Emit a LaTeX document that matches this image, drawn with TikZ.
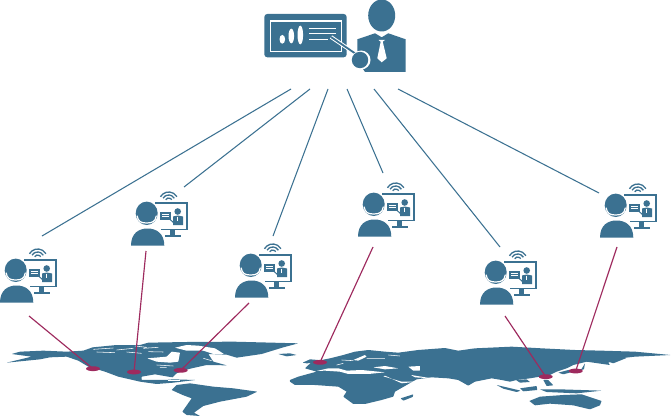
\documentclass[tikz,border=0pt]{standalone}
\definecolor{mapblue}{HTML}{3B7191}
\definecolor{pinred}{HTML}{9E2A5E}
\tikzset{
  x=1pt,y=-1pt,
  uplink/.style={draw=mapblue,line width=1.05pt},
  downlink/.style={draw=pinred,line width=1.15pt},
  land/.style={fill=mapblue,draw=none,rounded corners=0.4pt},
  sea/.style={fill=white,draw=none,rounded corners=0.4pt},
  speck/.style={draw=white,line width=0.55pt,fill=none},
  student/.pic={
    % wifi
    \foreach \r/\dx/\dy in {3.5/3.03/1.75,6.5/5.63/3.25,9.5/8.23/4.75}
      \draw[draw=mapblue,line width=1.3pt] (37.7-\dx,18.5-\dy) arc[start angle=150,end angle=30,radius=\r pt];
    % monitor
    \draw[draw=mapblue,line width=1.7pt] (24,20) -- (56,20) -- (56,46.5) -- (30,46.5);
    \fill[mapblue] (38.5,47) rectangle (43.5,52);
    \fill[mapblue] (33.5,51.5) rectangle (49.5,54);
    % small board and presenter in the screen
    \fill[mapblue] (29,28.5) rectangle (39.5,36.5);
    \draw[white,line width=.5pt] (31,31) -- (37.5,31) (31,33.5) -- (37.5,33.5);
    \draw[mapblue,line width=1pt] (38,35.5) -- (43,40);
    \fill[mapblue] (46.7,28.5) circle[radius=3.3pt];
    \fill[mapblue] (42,33.5) -- (46.7,32.5) -- (52,33.5) -- (52,42) -- (42,42) -- cycle;
    \draw[white,line width=.5pt] (46.7,33.5) -- (46.7,38);
    % person
    \fill[white] (-1,63) .. controls (-1,50) and (8,43.5) .. (16.5,43.5)
       .. controls (25,43.5) and (34.5,50) .. (34.5,63) -- cycle;
    \fill[mapblue] (0,62.7) .. controls (0,50) and (8,45.5) .. (16.5,45.5)
       .. controls (25,45.5) and (33.3,50) .. (33.3,62.7) -- cycle;
    \fill[white] (15.7,30.3) ellipse[x radius=12pt,y radius=12.7pt];
    \fill[mapblue] (15.7,30.3) ellipse[x radius=11pt,y radius=11.7pt];
    \draw[white,line width=1.2pt,line cap=round] (6.2,33) .. controls (7,38.5) and (10,40) .. (15.7,40)
       .. controls (21.4,40) and (24.4,38.5) .. (25.2,33);
  },
}
\begin{document}
\begin{tikzpicture}
\useasboundingbox (0,0) rectangle (671,417);
\fill[white] (0,0) rectangle (671,417);

% --- world map, in 3x map coordinates
\begin{scope}[shift={(0,330)},x=0.3333pt,y=-0.3333pt]
 % North America, Arctic and Greenland
 \fill[land] (35,72)--(60,65)--(130,62)--(200,65)--(250,62)--(278,52)--(350,45)--(420,45)--(445,38)--(560,36)--(700,35)--(895,40)--(850,52)--(785,72)--(710,83)--(680,74)--(625,72)--(640,95)--(680,106)--(620,105)--(575,115)--(550,122)--(530,130)--(518,142)--(505,140)--(465,133)--(425,140)--(425,150)--(470,150)--(495,150)--(520,148)--(586,150)--(520,158)--(470,162)--(420,155)--(355,140)--(315,125)--(265,110)--(235,92)--(200,80)--(150,82)--(120,88)--(60,94)--(20,98)--(95,80)--cycle;
 % inlets of the north-east
 \fill[sea] (525,53)--(560,45)--(595,47)--(645,55)--(672,72)--(640,72)--(610,62)--(560,62)--cycle;
 % Hudson bay
 \fill[sea] (442,85)--(500,80)--(515,65)--(540,68)--(535,95)--(510,98)--(470,95)--cycle;
 % arctic and lake specks
 \draw[speck] (280,58)--(340,54) (350,60)--(400,55) (430,55)--(475,52) (380,66)--(425,70) (290,66)--(345,68)
   (405,48)--(440,52) (470,105)--(520,108) (480,112)--(500,112) (610,85)--(635,92) (445,65)--(490,66);
 % Iceland
 \fill[land] (835,72)--(870,70)--(890,75)--(860,79)--cycle;
 % Caribbean specks
 \draw[speck] (505,152)--(540,152);
 % South America
 \fill[land] (515,180)--(530,165)--(570,160)--(640,170)--(700,175)--(772,185)--(740,200)--(660,215)--(610,228)--(582,248)--(600,258)--(560,255)--(547,245)--(575,205)--(548,195)--cycle;
 % Eurasia and Africa
 \fill[land] (915,115)--(935,96)--(990,85)--(1030,75)--(1065,65)--(1105,60)--(1155,65)--(1195,68)--(1255,60)--(1335,54)--(1375,62)--(1425,55)--(1535,50)--(1625,55)--(1725,60)--(1805,62)--(1905,65)--(2012,75)--(1905,80)--(1860,85)--(1825,98)--(1830,105)--(1760,95)--(1720,105)--(1700,115)--(1670,125)--(1650,135)--(1590,145)--(1550,150)--(1530,155)--(1505,150)--(1475,145)--(1425,155)--(1405,167)--(1375,150)--(1345,145)--(1295,142)--(1250,148)--(1220,165)--(1185,185)--(1180,200)--(1145,210)--(1095,222)--(1060,222)--(1030,200)--(1040,185)--(1015,170)--(945,165)--(885,165)--(870,155)--(870,150)--(895,140)--(950,125)--cycle;
 % UK
 \fill[land] (908,98)--(930,88)--(955,90)--(950,98)--(920,100)--cycle;
 % Mediterranean, Black Sea, Caspian, gulfs
 \fill[sea] (950,123)--(985,115)--(1015,115)--(1040,122)--(1085,120)--(1155,127)--(1105,132)--(1045,132)--(1020,125)--(975,122)--cycle;
 \fill[sea] (1120,112)--(1155,108)--(1195,115)--(1155,118)--cycle;
 \fill[sea] (1225,110)--(1260,108)--(1260,122)--(1240,122)--cycle;
 \fill[sea] (1155,137)--(1205,160)--(1250,155)--(1205,155)--(1150,139)--cycle;
 \fill[sea] (1233,135)--(1295,145)--(1245,142)--cycle;
 \fill[sea] (1060,90)--(1095,75)--(1100,80)--(1075,92)--cycle;
 \draw[speck] (1025,90)--(1060,92) (1100,85)--(1155,85) (1165,75)--(1200,78) (1030,100)--(1010,105);
 % Japan and Sakhalin
 \fill[land] (1675,128)--(1705,120)--(1745,117)--(1755,100)--(1752,118)--(1720,125)--(1690,133)--cycle;
 \fill[land] (1825,95)--(1870,80)--(1880,84)--(1840,100)--cycle;
 % Philippines
 \fill[land] (1630,150)--(1645,150)--(1660,166)--(1640,168)--cycle;
 % Indonesia
 \fill[land] (1490,165)--(1520,172)--(1562,182)--(1550,186)--(1510,176)--cycle;
 \fill[land] (1560,175)--(1610,168)--(1612,180)--(1570,184)--cycle;
 \fill[land] (1620,178)--(1680,178)--(1805,182)--(1730,190)--(1640,186)--cycle;
 \fill[land] (1548,150)--(1580,148)--(1590,156)--(1560,158)--cycle;
 % Australia
 \fill[land] (1588,213)--(1620,200)--(1690,195)--(1745,193)--(1805,213)--(1800,226)--(1770,238)--(1720,226)--(1650,221)--(1605,226)--cycle;
 % Madagascar
 \fill[land] (1202,205)--(1240,193)--(1238,201)--(1210,212)--cycle;
\end{scope}

% --- presenter
\fill[mapblue,rounded corners=3pt] (264.3,14) rectangle (346.7,57.3);
\draw[white,line width=1.3pt] (270.3,21) rectangle (341.5,51.5);
\fill[white] (282.3,39.3) ellipse[x radius=2.8pt,y radius=4.4pt];
\fill[white] (291.3,36) ellipse[x radius=2.8pt,y radius=7.3pt];
\fill[white] (300.3,35) ellipse[x radius=2.8pt,y radius=9.3pt];
\draw[white,line width=1pt] (309,28.3) -- (336,28.3) (309,34) -- (336,34) (309,40) -- (328.3,40);
\fill[mapblue] (381.7,15.5) ellipse[x radius=13.5pt,y radius=16pt];
\fill[mapblue] (357.3,39.3) -- (375,33.3) -- (381.7,37.3) -- (388.3,33.3) -- (405.7,39.3) -- (405.7,72) -- (365,72) -- (357.3,60) -- cycle;
\fill[white] (378.5,40) -- (385,40) -- (382.7,41.7) -- (386.7,58.3) -- (381.7,62.3) -- (377.3,58.3) -- (380.7,41.7) -- cycle;
\draw[white,line width=3.8pt] (331,37) -- (356,54);
\draw[mapblue,line width=1.8pt] (331,37) -- (356,54);
\fill[white] (361,60) circle[radius=9.5pt];
\fill[mapblue] (360,60) circle[radius=8.2pt];

% --- students
\pic at (0,240) {student};
\pic at (131,183) {student};
\pic at (235,235) {student};
\pic at (358,174) {student};
\pic at (480,242) {student};
\pic at (600,175) {student};

% --- hub points
\coordinate (h1) at (291,89);
\coordinate (h2) at (310,89);
\coordinate (h3) at (328,89);
\coordinate (h4) at (347,89);
\coordinate (h5) at (374,89);
\coordinate (h6) at (398,89);
\coordinate (s1) at (42,236);
\coordinate (s2) at (184,187);
\coordinate (s3) at (273,236);
\coordinate (s4) at (383,173);
\coordinate (s5) at (500,247);
\coordinate (s6) at (599,193);
\draw[uplink] (h1) -- (s1);
\draw[uplink] (h2) -- (s2);
\draw[uplink] (h3) -- (s3);
\draw[uplink] (h4) -- (s4);
\draw[uplink] (h5) -- (s5);
\draw[uplink] (h6) -- (s6);

% --- map pins and links
\coordinate (d1) at (29,316);
\coordinate (d2) at (146,251);
\coordinate (d3) at (249,303);
\coordinate (d4) at (373,247);
\coordinate (d5) at (505,316);
\coordinate (d6) at (617,247);
\path (93,368.7) coordinate (p1);
\path (134,372) coordinate (p2);
\path (180.7,370.3) coordinate (p3);
\path (320,362.3) coordinate (p4);
\path (545.7,376.7) coordinate (p5);
\path (575.7,371) coordinate (p6);
\draw[downlink] (d1) -- (p1);
\draw[downlink] (d2) -- (p2);
\draw[downlink] (d3) -- (p3);
\draw[downlink] (d4) -- (p4);
\draw[downlink] (d5) -- (p5);
\draw[downlink] (d6) -- (p6);
\foreach \p in {p1,p2,p3,p4,p5,p6}
  \fill[pinred] (\p) ellipse[x radius=7pt,y radius=2.4pt];
\end{tikzpicture}
\end{document}
